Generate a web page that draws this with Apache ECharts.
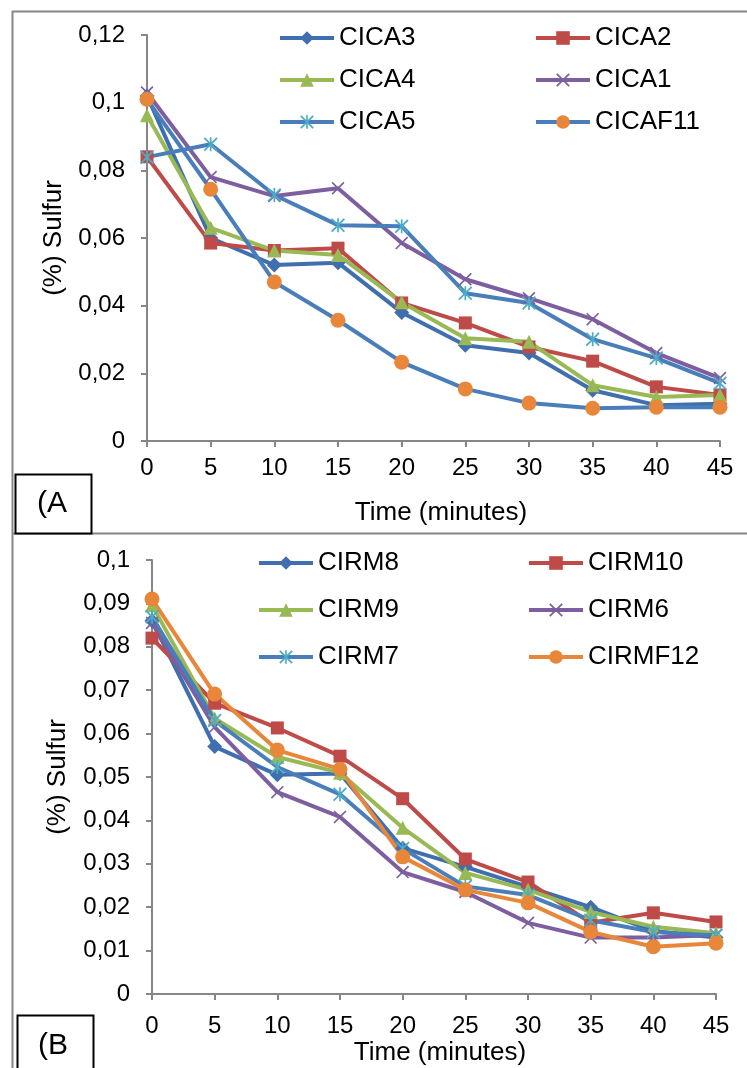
<!DOCTYPE html>
<html>
<head>
<meta charset="utf-8">
<script src="https://cdn.jsdelivr.net/npm/echarts@6.0.0/dist/echarts.min.js"></script>
<style>
  html, body { margin: 0; padding: 0; background: #fff; }
  #chart { width: 747px; height: 1068px; }
</style>
</head>
<body>
<div id="chart"></div>
<script>
const chart = echarts.init(document.getElementById('chart'));

// minutes
const TIME = [0, 5, 10, 15, 20, 25, 30, 35, 40, 45];

// panel A
const CICA3 = [0.102, 0.060, 0.052, 0.0527, 0.038, 0.0283, 0.026, 0.015, 0.0106, 0.011];
const CICA2 = [0.084, 0.0585, 0.0563, 0.057, 0.0408, 0.0349, 0.0278, 0.0236, 0.016, 0.0136];
const CICA4 = [0.0963, 0.063, 0.0563, 0.055, 0.041, 0.0304, 0.0293, 0.0165, 0.013, 0.0136];
const CICA1 = [0.103, 0.078, 0.0724, 0.0747, 0.0585, 0.0478, 0.0422, 0.036, 0.026, 0.0186];
const CICA5 = [0.0839, 0.0877, 0.0727, 0.0638, 0.0635, 0.0437, 0.0408, 0.0301, 0.0245, 0.0171];
const CICAF11 = [0.101, 0.0744, 0.047, 0.0357, 0.0233, 0.0154, 0.0112, 0.0097, 0.010, 0.010];

// panel B
const CIRM8 = [0.086, 0.057, 0.0505, 0.0508, 0.0336, 0.0293, 0.0247, 0.020, 0.0145, 0.013];
const CIRM10 = [0.082, 0.067, 0.0613, 0.0548, 0.045, 0.0311, 0.0258, 0.0164, 0.0187, 0.0166];
const CIRM9 = [0.0896, 0.0635, 0.0546, 0.051, 0.0383, 0.0279, 0.024, 0.0189, 0.0155, 0.014];
const CIRM6 = [0.0855, 0.0615, 0.0465, 0.0408, 0.0281, 0.0235, 0.0164, 0.013, 0.013, 0.0136];
const CIRM7 = [0.0869, 0.063, 0.0523, 0.046, 0.0335, 0.0248, 0.0228, 0.017, 0.0143, 0.0135];
const CIRMF12 = [0.091, 0.0691, 0.0562, 0.0518, 0.0316, 0.024, 0.021, 0.0143, 0.0109, 0.0117];

const FONT = 'Liberation Sans';
const AXIS_GREY = '#868686';
const BLUE_D = '#3F6FAE', RED = '#BE4B48', GREEN = '#98B954', PURPLE = '#7D5FA0';
const BLUE_L = '#4A7EBB', AQUA = '#4BACC6', ORANGE = '#E8873A';

// excel-style markers built as filled polygons
const X_MARK = 'path://M0.9,0L10,9.1L9.1,10L0,0.9ZM9.1,0L10,0.9L0.9,10L0,9.1Z';
const STAR_MARK = 'path://M4.4,0L5.6,0L5.6,10L4.4,10ZM0.9,0L10,9.1L9.1,10L0,0.9ZM9.1,0L10,0.9L0.9,10L0,9.1Z';

const pair = vals => TIME.map((t, i) => [t, vals[i]]);
const commaFmt = v => String(+v.toFixed(3)).replace('.', ',');

function line(name, vals, idx, lineColor, markColor, symbol, size) {
  return {
    name, type: 'line', xAxisIndex: idx, yAxisIndex: idx,
    data: pair(vals), symbol, symbolSize: size, showSymbol: true,
    lineStyle: { color: lineColor, width: 4 },
    itemStyle: { color: markColor, borderWidth: 0 },
    emphasis: { disabled: true }, animation: false
  };
}

function xAxis(idx, margin) {
  return {
    type: 'value', gridIndex: idx, min: 0, max: 45, interval: 5,
    axisLine: { lineStyle: { color: AXIS_GREY, width: 2 } },
    axisTick: { show: true, length: 6, lineStyle: { color: AXIS_GREY, width: 2 } },
    axisLabel: { color: '#000', fontFamily: FONT, fontSize: 24, margin },
    splitLine: { show: false }
  };
}
function yAxis(idx, max, interval) {
  return {
    type: 'value', gridIndex: idx, min: 0, max, interval,
    axisLine: { show: true, lineStyle: { color: AXIS_GREY, width: 2 } },
    axisTick: { show: true, length: 6, lineStyle: { color: AXIS_GREY, width: 2 } },
    axisLabel: { color: '#000', fontFamily: FONT, fontSize: 24, margin: 22, formatter: commaFmt },
    splitLine: { show: false }
  };
}
function legend(names, left, top, gap) {
  return {
    data: names, orient: 'vertical', left, top, padding: 0,
    itemWidth: 54, itemHeight: 17, itemGap: gap,
    lineStyle: { width: 4 },
    textStyle: { color: '#000', fontFamily: FONT, fontSize: 26, lineHeight: 26, padding: [0, 0, 0, 0] },
    selectedMode: false
  };
}
const txt = (text, x, y, size, rot) => ({
  type: 'text', x, y, rotation: rot || 0,
  style: { text, fill: '#000', font: `${size}px "${FONT}"`, align: 'center', verticalAlign: 'middle' }
});
const hline = (x1, x2, y, c, w) => ({ type: 'line', shape: { x1, y1: y, x2, y2: y }, style: { stroke: c, lineWidth: w } });
const vline = (x, y1, y2, c, w) => ({ type: 'line', shape: { x1: x, y1, x2: x, y2 }, style: { stroke: c, lineWidth: w } });

chart.setOption({
  backgroundColor: '#fff',
  animation: false,
  grid: [
    { left: 147, right: 27, top: 35, bottom: 627 },
    { left: 152, right: 31, top: 560, bottom: 74 }
  ],
  xAxis: [xAxis(0, 15), xAxis(1, 20)],
  yAxis: [yAxis(0, 0.12, 0.02), yAxis(1, 0.1, 0.01)],
  legend: [
    legend(['CICA3', 'CICA4', 'CICA5'], 278, 25, 16),
    legend(['CICA2', 'CICA1', 'CICAF11'], 534, 25, 16),
    legend(['CIRM8', 'CIRM9', 'CIRM7'], 257, 550, 21),
    legend(['CIRM10', 'CIRM6', 'CIRMF12'], 527, 550, 21)
  ],
  series: [
    line('CICA3', CICA3, 0, BLUE_D, BLUE_D, 'diamond', 15),
    line('CICA2', CICA2, 0, RED, RED, 'rect', 13),
    line('CICA4', CICA4, 0, GREEN, GREEN, 'triangle', 14),
    line('CICA1', CICA1, 0, PURPLE, PURPLE, X_MARK, 13),
    line('CICA5', CICA5, 0, BLUE_L, AQUA, STAR_MARK, 14),
    line('CICAF11', CICAF11, 0, BLUE_L, ORANGE, 'circle', 15),
    line('CIRM8', CIRM8, 1, BLUE_D, BLUE_D, 'diamond', 15),
    line('CIRM10', CIRM10, 1, RED, RED, 'rect', 13),
    line('CIRM9', CIRM9, 1, GREEN, GREEN, 'triangle', 14),
    line('CIRM6', CIRM6, 1, PURPLE, PURPLE, X_MARK, 13),
    line('CIRM7', CIRM7, 1, BLUE_L, AQUA, STAR_MARK, 14),
    line('CIRMF12', CIRMF12, 1, ORANGE, ORANGE, 'circle', 15)
  ],
  graphic: [
    // panel frame lines
    vline(12.5, 11, 1068, AXIS_GREY, 2),
    hline(12, 747, 11.5, AXIS_GREY, 2),
    hline(12, 747, 533.5, AXIS_GREY, 2),
    // panel tags
    { type: 'rect', shape: { x: 15.5, y: 474.5, width: 76, height: 59 }, style: { fill: '#fff', stroke: '#000', lineWidth: 2 } },
    txt('(A', 52, 504, 30),
    { type: 'rect', shape: { x: 17.5, y: 1015.5, width: 76, height: 60 }, style: { fill: '#fff', stroke: '#000', lineWidth: 2 } },
    txt('(B', 53, 1046, 30),
    // axis titles
    txt('Time (minutes)', 441, 513, 26),
    txt('Time (minutes)', 440, 1053, 26),
    txt('(%) Sulfur', 54, 238, 26, Math.PI / 2),
    txt('(%) Sulfur', 58, 777, 26, Math.PI / 2)
  ]
});
</script>
</body>
</html>
